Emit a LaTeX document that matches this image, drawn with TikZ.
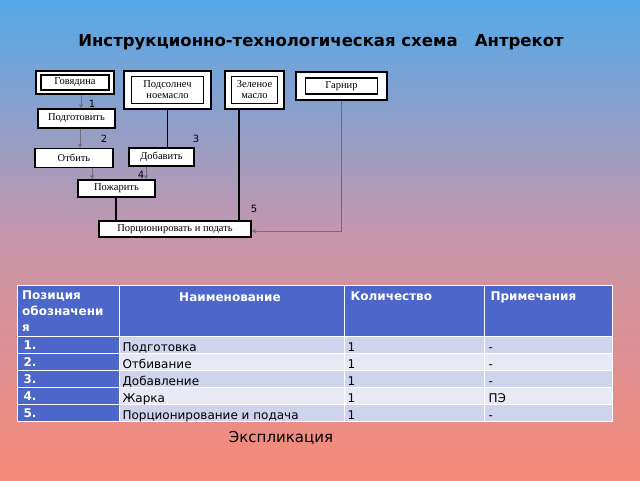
\documentclass[tikz,border=0pt]{standalone}
\usepackage{fontspec}
\setmainfont{DejaVu Sans}
\newfontfamily\boxfont{Liberation Serif}
\usetikzlibrary{positioning}
\definecolor{skytop}{RGB}{84,168,232}
\definecolor{skymid}{RGB}{200,150,170}
\definecolor{skybot}{RGB}{246,138,120}
\definecolor{headblue}{RGB}{76,102,201}
\definecolor{rowdark}{RGB}{207,211,236}
\definecolor{rowlight}{RGB}{232,233,245}
\definecolor{flowgrey}{RGB}{110,110,120}
\tikzset{
  outer/.style={draw, line width=1.6pt, fill=white, inner sep=0pt},
  inner/.style={draw, line width=1.2pt, fill=white, font=\boxfont\fontsize{10.5}{11}\selectfont, align=center, inner sep=0pt},
  stepbox/.style={draw, line width=1.4pt, fill=white, font=\boxfont\fontsize{10.5}{11}\selectfont, inner sep=0pt},
  arr/.style={->, flowgrey, line width=1pt, >=stealth},
  bline/.style={line width=1.7pt},
  num/.style={font=\fontsize{10}{10}\selectfont},
  hd/.style={font=\bfseries\fontsize{12}{16}\selectfont, text=white, anchor=north west, align=left},
  cell/.style={font=\fontsize{12}{14}\selectfont, anchor=base west}
}
\begin{document}
\begin{tikzpicture}[x=1pt, y=-1pt]
    % background
    \shade[top color=skytop, bottom color=skybot, middle color=skymid] (0,0) rectangle (640,480);
    \useasboundingbox (0,0) rectangle (640,480);

    % Title
    \node[font=\bfseries\fontsize{16.5}{18}\selectfont] (title) at (321,42) {Инструкционно-технологическая схема \ \ Антрекот};

    % Source boxes
    \node[outer, minimum width=78, minimum height=23] (gov) at (75,82.5) {};
    \node[inner, minimum width=68, minimum height=15] (govin) at (gov) {Говядина};
    \node[outer, minimum width=87, minimum height=38] (oil) at (167.5,90) {};
    \node[inner, minimum width=72, minimum height=27] (oilin) at (oil) {Подсолнеч\\ноемасло};
    \node[outer, minimum width=59, minimum height=38] (green) at (254.5,90) {};
    \node[inner, minimum width=46, minimum height=27] (greenin) at (green) {Зеленое\\масло};
    \node[outer, minimum width=91, minimum height=28] (garn) at (341.5,86) {};
    \node[inner, minimum width=72, minimum height=16] (garnin) at (garn) {Гарнир};

    % Steps
    \node[stepbox, minimum width=77, minimum height=19] (prep) at (76.5,118.5) {Подготовить};
    \node[stepbox, minimum width=78, minimum height=19] (beat) at (74,158) {Отбить};
    \node[stepbox, minimum width=65, minimum height=18] (add) at (161.5,157) {Добавить};
    \node[stepbox, minimum width=77, minimum height=17] (fry) at (116.5,188.5) {Пожарить};
    \node[stepbox, minimum width=152, minimum height=16] (serve) at (175,229) {Порционировать и подать};

    % Connectors
    \draw[arr] (gov.south -| 81,0) -- (prep.north -| 81,0);
    \draw[arr] (prep.south -| 80,0) -- (beat.north -| 80,0);
    \draw[bline] (oil.south) -- (add.north -| oil.south);
    \draw[arr] (beat.south -| 92,0) -- (fry.north -| 92,0);
    \draw[arr] (add.south -| 146,0) -- (fry.north -| 146,0);
    \draw[bline] (fry.south -| 116,0) -- (serve.north -| 116,0);
    \draw[bline] (green.south -| 239,0) -- (serve.north -| 239,0);
    \coordinate (turn) at (341,231);
    \draw[arr] (garn.south -| turn) -- (turn) -- (serve.east |- turn);

    % Step numbers
    \node[num] (n1) at (92,104) {1};
    \node[num] (n2) at (104,139) {2};
    \node[num] (n3) at (196,139) {3};
    \node[num] (n4) at (141,175) {4};
    \node[num] (n5) at (254,209) {5};

    % Table
    \fill[headblue] (17,285) rectangle (612,336);
    \foreach \i in {0,...,4} {
        \pgfmathsetmacro{\ya}{336+17*\i}
        \pgfmathsetmacro{\yb}{353+17*\i}
        \ifodd\i \def\rc{rowlight}\else \def\rc{rowdark}\fi
        \fill[\rc] (119,\ya) rectangle (612,\yb);
        \fill[headblue] (17,\ya) rectangle (119,\yb);
        \draw[white, line width=1pt] (17,\ya) -- (612,\ya);
    }
    \foreach \xx in {119,344,484} \draw[white, line width=1pt] (\xx,285) -- (\xx,421);
    \draw[white, line width=1pt] (17,285) rectangle (612,421);

    \node[hd, inner sep=1pt] (h1) at (21,290) {Позиция\\обозначени\\я};
    \node[hd, anchor=north] (h2) at (230,289) {Наименование};
    \node[hd] (h3) at (347,288) {Количество};
    \node[hd] (h4) at (487,288) {Примечания};

    \foreach \n/\name/\q/\note [count=\k from 0] in {1./Подготовка/1/-, 2./Отбивание/1/-, 3./Добавление/1/-, 4./Жарка/1/ПЭ, 5./Порционирование и подача/1/-} {
        \pgfmathsetmacro{\yc}{349+17*\k}
        \node[cell, font=\bfseries\fontsize{12}{14}\selectfont, text=white] (p\k) at (20,\yc) {\n};
        \node[cell] (nm\k) at (119,\yc+2) {\name};
        \node[cell] (q\k) at (344,\yc+2) {\q};
        \node[cell] (r\k) at (485,\yc+2) {\note};
    }

    \node[font=\fontsize{15}{17}\selectfont] (caption) at (281,438) {Экспликация};
\end{tikzpicture}
\end{document}
